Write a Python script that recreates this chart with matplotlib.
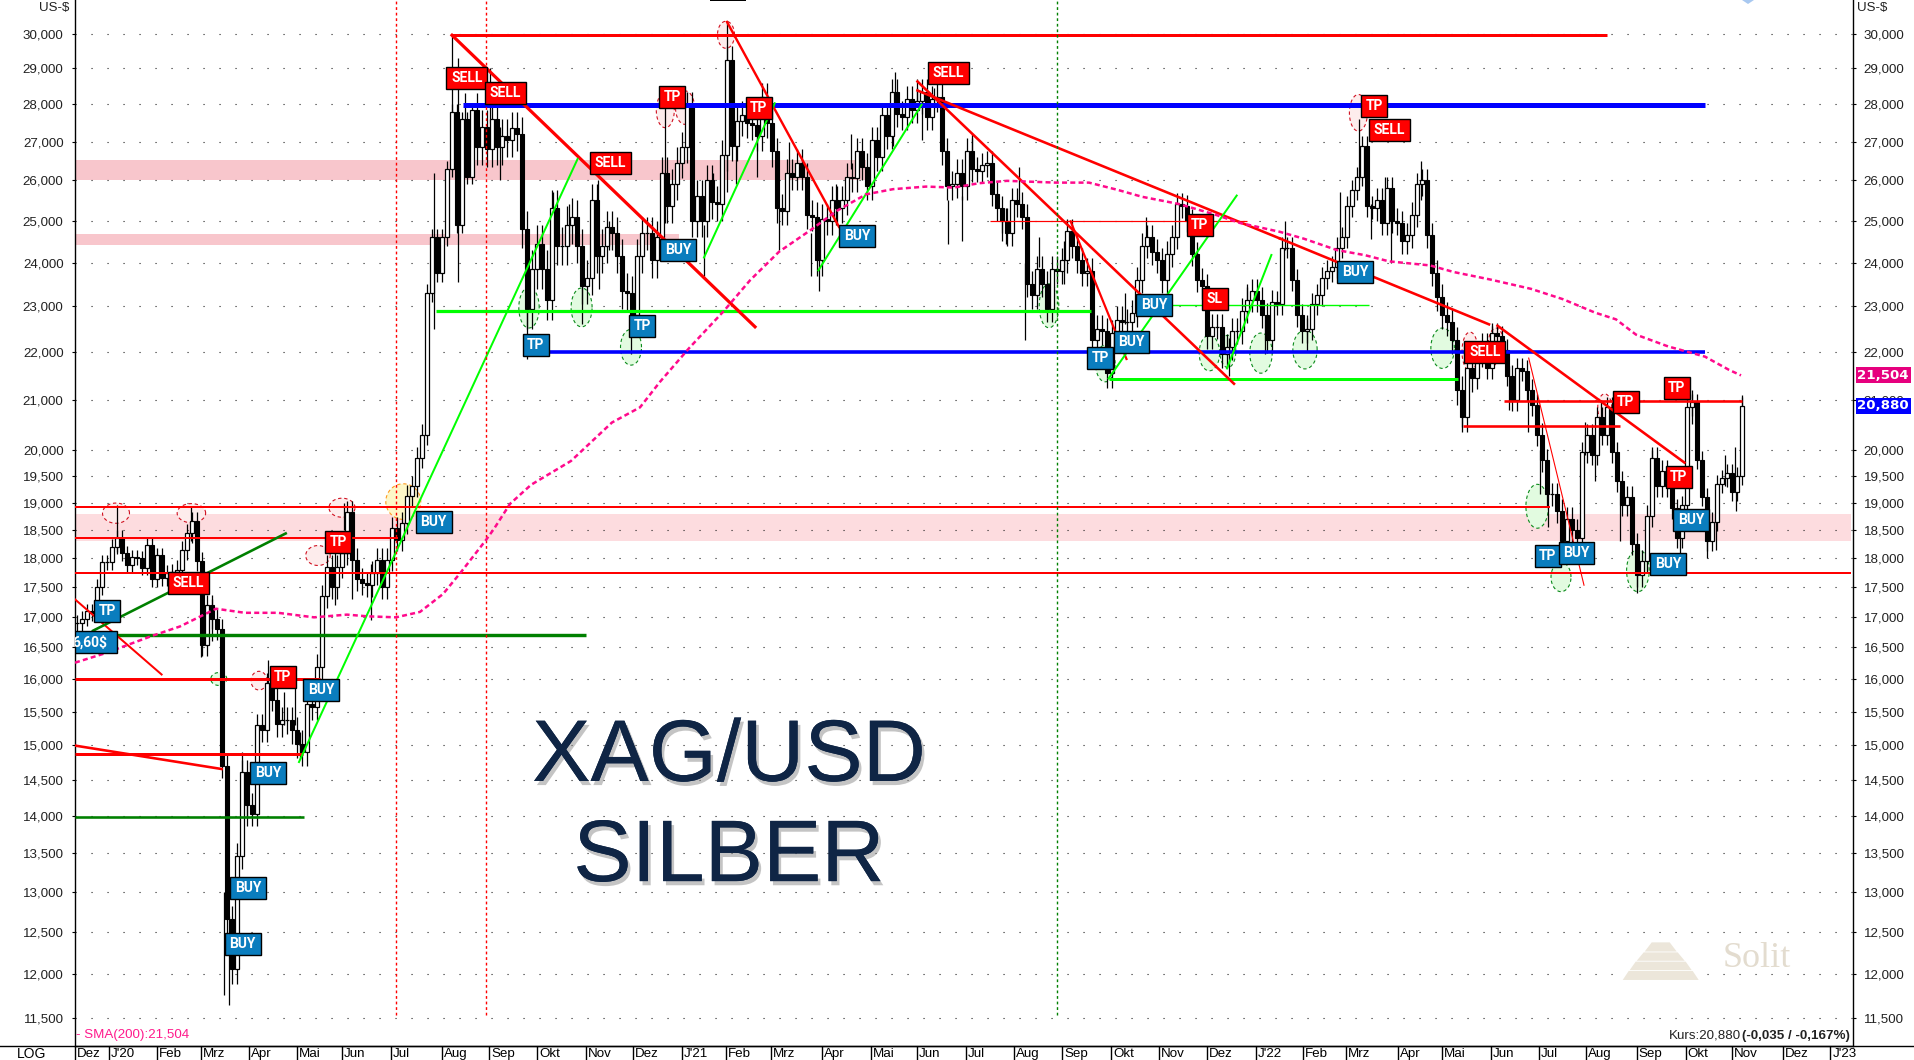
# -*- coding: utf-8 -*-
"""XAG/USD (Silber) daily chart with trade marks, read off the reference picture."""

import numpy as np
import matplotlib
matplotlib.use('Agg')
import matplotlib.pyplot as plt
import matplotlib.patheffects as pe
from matplotlib.lines import Line2D
from matplotlib.patches import Rectangle
from matplotlib.transforms import blended_transform_factory

plt.rcParams['font.family'] = ['Liberation Sans', 'DejaVu Sans']

# x axis runs in chart columns, 5 columns per candle
first_col = 77
col_step = 5

closes = [
    16900, 16970, 17090, 17060, 17500, 17930, 17930, 18200, 18360, 18080, 17880, 18020, 18000, 17830, 18230, 17630, 18050, 17650, 17740, 17760,
    17800, 18140, 18440, 18660, 17940, 16540, 17200, 16970, 16790, 14700, 12660, 12060, 13470, 14620, 14150, 14030, 15300, 15220, 15930, 15680,
    15320, 15370, 15370, 15220, 15020, 14900, 15620, 15570, 16190, 17340, 17850, 17500, 17850, 18080, 18820, 17970, 17630, 17560, 17530, 17740,
    17970, 17500, 17970, 18530, 18320, 18620, 19130, 19300, 19850, 20300, 23300, 24600, 23750, 24600, 26300, 27800, 24900, 27600, 26100, 27850,
    26850, 27400, 26800, 27600, 26850, 27150, 27050, 27350, 27200, 24800, 22950, 23850, 24450, 23850, 23150, 25300, 24400, 24400, 24900, 25100,
    24400, 23450, 23650, 25500, 24150, 24400, 24850, 24700, 24150, 23350, 23300, 22800, 24150, 24700, 24700, 24050, 24600, 26200, 25350, 25900,
    26450, 26850, 27950, 25000, 25600, 25000, 26000, 25450, 25400, 26650, 29250, 26900, 27550, 27700, 27500, 27450, 27150, 28200, 27500, 26750,
    25300, 25250, 26200, 26100, 26450, 26100, 25150, 25100, 24050, 25050, 25000, 25500, 25300, 25500, 26100, 26050, 26750, 26350, 25850, 27050,
    26600, 27700, 27150, 28350, 27750, 27650, 28150, 27850, 28100, 28350, 27650, 28150, 28200, 26750, 25850, 25900, 26200, 25850, 26750, 26300,
    26250, 26400, 26450, 25650, 25300, 25000, 24700, 25500, 25400, 25100, 23500, 23250, 23850, 23500, 22950, 23850, 23800, 24050, 24750, 24400,
    24050, 23750, 23800, 22250, 22500, 22450, 21550, 22400, 22700, 22650, 22650, 22850, 23600, 24400, 24600, 24250, 24050, 23600, 24200, 24600,
    25400, 25350, 25000, 24200, 23600, 23450, 22350, 22550, 22550, 21950, 22100, 22450, 22450, 22900, 23150, 23350, 23150, 22800, 22250, 23100,
    23050, 24350, 24350, 23600, 22800, 22450, 22500, 23050, 23250, 23650, 23800, 23900, 24350, 24600, 25350, 25750, 26100, 26900, 25350, 25300,
    25500, 24950, 25800, 25000, 24950, 24500, 24650, 25150, 25900, 26000, 24650, 23750, 23200, 22800, 22650, 22250, 21200, 20650, 21650, 21450,
    21900, 22200, 21650, 22400, 22350, 22050, 21500, 21000, 21650, 21600, 21200, 20900, 20300, 19800, 19150, 19150, 18850, 18300, 18700, 18500,
    18350, 19950, 20300, 19900, 20650, 20300, 20850, 19950, 19400, 18950, 19100, 18250, 17700, 17950, 18750, 19850, 19300, 19600, 19300, 18900,
    18350, 18950, 20850, 20950, 19800, 19100, 18300, 18650, 19350, 19450, 19550, 19200, 19500, 20880,
]

# typical wick length per stretch of 20 candles, estimated
stretch_wick = [130, 170, 200, 200, 450, 400, 400, 350, 350, 300, 300, 280, 250, 300, 220, 200, 170]

# single long wicks: column, low, high
wick_cols = [117, 191, 201, 212, 224, 229, 242, 247, 268, 284, 295, 300, 371, 335, 352, 344,
             434, 458, 452, 465, 490, 500, 527, 553, 569, 582, 598, 599, 609, 631, 665, 704, 713, 727, 736,
             757, 779, 789, 811, 819, 836, 851, 895, 893, 917, 922, 934, 948, 972, 962, 1002, 1006, 1019, 1025, 1039, 1064,
             1146, 1125, 1229, 1247, 1265, 1285, 1307, 1340, 1359, 1371, 1385, 1391, 1421,
             1462, 1492, 1509, 1528, 1540, 1548, 1585, 1595, 1601, 1620, 1637, 1652, 1680, 1692, 1707, 1716, 1725, 1736, 1735, 1742]
wick_lows = [18100, 18300, 16350, 16600, 11763, 11650, 14600, 13860, 15700, 15300, 15300, 14800, 16950, 17200, 17300, 18500,
             22500, 23550, 27500, 26500, 27500, 26000, 21850, 24900, 24400, 22600, 24500, 23400, 24300, 21950, 24950, 23700, 25500, 25700, 25900,
             26100, 24300, 26000, 23700, 23350, 24900, 26300, 27800, 26900, 28100, 27050, 27900, 24450, 26300, 24500, 24500, 24450, 25400, 22250, 23900, 23500,
             24400, 22600, 21500, 22800, 21950, 24300, 22000, 24400, 26000, 24550, 25200, 24000, 25500,
             20450, 21900, 20800, 20350, 19150, 18550, 19900, 19400, 20300, 18300, 17400, 19000, 17850, 20500, 18000, 18150, 19300, 18850, 19300, 20300]
wick_highs = [18950, 18920, 17200, 17300, 13000, 12700, 14900, 14300, 16300, 15800, 15900, 15200, 17900, 18100, 18100, 19000,
              26200, 29300, 30000, 28300, 29000, 27400, 23000, 25700, 25400, 23600, 26000, 24400, 25000, 22900, 28000, 24900, 26200, 30350, 27000,
              27100, 25300, 27000, 24700, 24400, 25900, 27200, 28900, 27800, 28700, 28300, 28450, 25500, 27200, 25600, 25300, 25300, 26350, 24000, 24600, 24500,
              25100, 23300, 22300, 23500, 22800, 25000, 22800, 25700, 27600, 25400, 26100, 25000, 26500,
              21000, 22570, 21700, 21200, 20000, 19300, 20550, 20000, 21000, 19200, 18200, 20000, 18900, 21200, 18800, 18900, 19900, 19500, 20050, 21100]

# SMA(200), column and value
sma_cols = [75, 106, 151, 180, 216, 245, 278, 314, 347, 367, 396, 420, 443, 461, 486, 494, 510, 531, 571, 612, 640,
            660, 689, 724, 750, 779, 811, 836, 866, 893, 926, 954, 979, 1007, 1056, 1089, 1118, 1142, 1179, 1215, 1240, 1280,
            1304, 1337, 1365, 1389, 1430, 1454, 1490, 1531, 1563, 1595, 1616, 1636, 1668, 1705, 1729, 1741]
sma_vals = [16256, 16410, 16680, 16840, 17133, 17065, 17065, 16990, 17035, 17007, 16990, 17080, 17380, 17755, 18320, 18520, 18975, 19330, 19785, 20540, 20845,
            21370, 22080, 22900, 23590, 24255, 24780, 25230, 25650, 25780, 25845, 25820, 25930, 25990, 25945, 25945, 25760, 25590, 25410, 25150, 24945, 24730,
            24565, 24295, 24175, 24030, 23935, 23780, 23610, 23395, 23160, 22860, 22710, 22375, 22120, 21900, 21620, 21504]

# pink zones: first column, last column, low, high, colour
band_x0 = [75, 75, 75]
band_x1 = [866, 679, 1851]
band_low = [26000, 24413, 18297]
band_high = [26522, 24675, 18785]
band_col = ['#f8c6cc', '#f8c6cc', '#fddcdf']

# level lines: first column, last column, value, colour, width
level_x0 = [452, 463, 549, 436, 1109, 1158, 990, 75, 75, 75, 75, 75, 75, 75, 1504, 1463]
level_x1 = [1607, 1705, 1705, 1091, 1458, 1369, 1247, 1550, 398, 1851, 586, 304, 320, 303, 1742, 1620]
level_val = [29950, 27969, 22000, 22906, 21437, 23019, 25000, 18913, 18354, 17736, 16705, 13993, 15996, 14879, 20977, 20463]
level_col = ['#ff0000', '#0000ff', '#0000ff', '#00ff00', '#00ff00', '#00ff00', '#ff0000', '#ff0000', '#ff0000', '#ff0000',
             '#008000', '#008000', '#ff0000', '#ff0000', '#ff0000', '#ff0000']
level_wid = [3, 5, 3.6, 3.2, 3, 1.4, 1.2, 2, 2, 2, 3.4, 2.6, 3, 3, 2.6, 2.6]

# trend lines: column pair, value pair, colour, width
trend_x0 = [452, 727, 917.5, 1280, 917.5, 1070.6, 1497.5, 1528.7, 75, 75, 93, 299, 704, 818.4, 1108.6, 1227]
trend_x1 = [755, 839, 1280, 1489, 1234, 1126.5, 1684.4, 1584, 221.6, 161.6, 285.7, 577.6, 774.7, 921.6, 1236.7, 1271.4]
trend_v0 = [29950, 30340, 28380, 24570, 28630, 24985, 22570, 21870, 14995, 17290, 16770, 14757, 24120, 23820, 21440, 21650]
trend_v1 = [22546, 24850, 24570, 22600, 21330, 21850, 19754, 17530, 14657, 16070, 18436, 26550, 28030, 27990, 25620, 24180]
trend_col = ['#ff0000'] * 10 + ['#008000'] + ['#00ff00'] * 5
trend_wid = [3.2, 2.4, 2.6, 2.6, 2.6, 2.2, 2.6, 1.1, 2.6, 2, 2.6, 2, 2, 2, 2, 2]

# dashed circles: column, width, low, high
red_x = [116, 191.4, 342, 318, 259, 726, 665.3, 685, 1358.4, 1470, 1496, 1604.7]
red_w = [27, 28.5, 26, 24.5, 16, 17, 18, 19, 18, 16, 16, 14]
red_lo = [18620, 18630, 18730, 17870, 15830, 29570, 27370, 27460, 27280, 21600, 21730, 20560]
red_hi = [18990, 18980, 19080, 18220, 16120, 30360, 28320, 28370, 28270, 22430, 22520, 21120]

green_x = [218.8, 529, 581.6, 631, 1049, 1105.3, 1209.4, 1227.8, 1261, 1305, 1442.6, 1537.2, 1561, 1637.9]
green_w = [16, 20.4, 21, 21, 19.6, 19.6, 20.4, 16, 22.4, 24.3, 23.5, 22.6, 20, 22.6]
green_lo = [15900, 22520, 22545, 21720, 22525, 21370, 21600, 21670, 21550, 21640, 21650, 18530, 17420, 17420]
green_hi = [16100, 23430, 23415, 22490, 23510, 22150, 22360, 22360, 22410, 22470, 22520, 19340, 17925, 18150]

# trade boxes: text, centre column, centre value
box_text = ['SELL', 'SELL', 'SELL', 'BUY', 'TP', 'TP', 'TP', '6,60$', 'SELL', 'TP', 'TP', 'BUY', 'BUY', 'BUY', 'BUY',
            'TP', 'TP', 'BUY', 'BUY', 'SELL', 'TP', 'BUY', 'SL', 'BUY', 'TP', 'TP', 'SELL', 'BUY', 'SELL', 'TP', 'TP', 'TP', 'BUY', 'TP', 'BUY', 'BUY']
box_col = [466.9, 505.6, 610.4, 433.8, 535.8, 642, 107.3, 95.7, 188, 338.4, 282.8, 320.9, 267.9, 247.9, 242.8,
           672.3, 758.6, 678, 857, 948, 1199.5, 1154, 1214.5, 1131.7, 1100.4, 1374, 1389.3, 1355, 1484.8, 1625.6, 1676.5, 1678.5, 1691, 1547.5, 1576.7, 1667.9]
box_val = [28720, 28310, 26435, 18640, 22160, 22570, 17100, 16580, 17570, 18285, 16025, 15830, 14600, 13055, 12360,
           28190, 27890, 24290, 24640, 28880, 24905, 23020, 23160, 22210, 21880, 27950, 27300, 23780, 22010, 20950, 21250, 19480, 18680, 18030, 18080, 17890]
box_fill = ['#ff0000' if t in ('SELL', 'SL') else '#0a7dbe' for t in box_text]
for i in [9, 10, 15, 16, 20, 25, 29, 30, 31]:
    box_fill[i] = '#ff0000'
box_width = {'SELL': 41, 'BUY': 35.5, 'TP': 26, 'SL': 26, '6,60$': 42}

# price axis
price_ticks = list(range(30000, 19000, -1000)) + list(range(19500, 11000, -500))

# month axis
month_ticks = [75, 108.6, 156.7, 201, 249, 297, 342, 391, 442.4, 489, 537, 586, 632.9, 681.5, 726.3, 771, 821.6, 870.7, 917,
               965.6, 1014, 1062.3, 1111, 1159, 1207, 1255.8, 1303, 1346, 1397.7, 1441.7, 1490.7, 1539, 1586, 1636.6, 1685.6, 1731.7, 1782.6, 1830.3]
month_names = ['Dez', "J'20", 'Feb', 'Mrz', 'Apr', 'Mai', 'Jun', 'Jul', 'Aug', 'Sep', 'Okt', 'Nov', 'Dez', "J'21", 'Feb', 'Mrz', 'Apr', 'Mai', 'Jun',
               'Jul', 'Aug', 'Sep', 'Okt', 'Nov', 'Dez', "J'22", 'Feb', 'Mrz', 'Apr', 'Mai', 'Jun', 'Jul', 'Aug', 'Sep', 'Okt', 'Nov', 'Dez', "J'23"]

# small pyramid of the watermark
pyr_low = [12270, 12160, 12050, 11935]
pyr_high = [12380, 12260, 12150, 12040]
pyr_top = [9, 17, 25, 32]
pyr_bot = [16, 24, 31, 38]

W, H = 1914, 1060
fig = plt.figure(figsize=(W / 100, H / 100), dpi=100, facecolor='white')
ax = fig.add_axes([74.7 / W, (H - 1045.5) / H, (1852.5 - 74.7) / W, 1045.5 / H])
ax.set_yscale('log')
ax.set_xlim(74.7, 1852.5)
ax.set_ylim(11197, 30995)

ax.set_yticks(price_ticks)
ax.set_yticklabels([f'{v:,}' for v in price_ticks], fontsize=9.6, color='#222222')
ax.minorticks_off()
ax.tick_params(axis='y', which='major', length=2.5, width=0.8, pad=5.5, left=True, right=True, labelleft=True, labelright=True)
ax.set_xticks(month_ticks)
ax.set_xticklabels([])
ax.tick_params(axis='x', length=11, width=1)
ax.grid(axis='y', color='#222222', linewidth=0.8, linestyle=(0, (1, 13.4)), zorder=1)
ax.set_axisbelow(True)
ax.spines['top'].set_visible(False)
for s in ('left', 'right', 'bottom'):
    ax.spines[s].set_linewidth(1)

for x0, x1, lo, hi, c in zip(band_x0, band_x1, band_low, band_high, band_col):
    ax.add_patch(Rectangle((x0, lo), x1 - x0, hi - lo, facecolor=c, edgecolor='none', zorder=0.5))


def draw_ellipse(x, w, lo, hi, face, edge):
    t = np.linspace(0, 2 * np.pi, 60)
    mid, half = (np.log(lo) + np.log(hi)) / 2, (np.log(hi) - np.log(lo)) / 2
    ax.fill(x + w / 2 * np.cos(t), np.exp(mid + half * np.sin(t)), facecolor=face, edgecolor=edge,
            linewidth=0.8, linestyle=(0, (3, 2.5)), zorder=2)


for x, w, lo, hi in zip(red_x, red_w, red_lo, red_hi):
    draw_ellipse(x, w, lo, hi, '#fdecec', '#d01020')
for x, w, lo, hi in zip(green_x, green_w, green_lo, green_hi):
    draw_ellipse(x, w, lo, hi, '#e2fbe0', '#0a8a1a')
draw_ellipse(403.3, 35, 18690, 19350, '#fdf7c8', '#ff9a20')

# candles
close = np.array(closes, dtype=float)
opens = np.concatenate(([close[0]], close[:-1]))
cols = first_col + col_step * np.arange(len(close))
up = close >= opens
pad = np.repeat(stretch_wick, 20)[:len(close)]
ax.vlines(cols, np.minimum(opens, close) - pad, np.maximum(opens, close) + pad, color='black', linewidth=0.9, zorder=3)
ax.vlines(wick_cols, wick_lows, wick_highs, color='black', linewidth=0.9, zorder=3)
ax.bar(cols[up], (close - opens)[up], bottom=opens[up], width=3.2, facecolor='white', edgecolor='black', linewidth=0.9, zorder=3.2)
ax.bar(cols[~up], (opens - close)[~up], bottom=close[~up], width=3.8, facecolor='black', edgecolor='black', linewidth=0.8, zorder=3.3)

for x0, x1, v, c, wd in zip(level_x0, level_x1, level_val, level_col, level_wid):
    ax.plot([x0, x1], [v, v], color=c, linewidth=wd * 0.72, solid_capstyle='butt', zorder=4)
for x0, x1, v0, v1, c, wd in zip(trend_x0, trend_x1, trend_v0, trend_v1, trend_col, trend_wid):
    ax.plot([x0, x1], [v0, v1], color=c, linewidth=wd * 0.72, zorder=4)

ax.plot(sma_cols, sma_vals, color='#ff0a8c', linewidth=1.8, linestyle=(0, (2, 1.3)), zorder=4.5)

# dashed time markers
for col, c in zip([396.3, 485.7, 1056.6], ['#ff0000', '#ff0000', '#008000']):
    ax.plot([col, col], [11540, 30995], color=c, linewidth=1, linestyle=(0, (2, 2)), zorder=4.2)

# trade boxes, 22 px high on the log scale
ratio = np.exp(11 / 1026.6)
for t, x, v, c in zip(box_text, box_col, box_val, box_fill):
    w = box_width[t]
    ax.add_patch(Rectangle((x - w / 2, v / ratio), w, v * ratio - v / ratio, facecolor=c, edgecolor='black', linewidth=1, zorder=6))
    tx_col = x - 5.7 if t == '6,60$' else x
    ax.text(tx_col, v, t, color='white', fontsize=10, fontweight='bold', ha='center', va='center', zorder=7,
            family=['Roboto', 'Liberation Sans'], clip_on=True)

# big title with soft shadow
shadow = [pe.withSimplePatchShadow(offset=(2, -3), shadow_rgbFace='#8a8a8a', alpha=0.5), pe.Normal()]
for label, yfrac in zip(['XAG/USD', 'SILBER'], [0.2845, 0.19]):
    tx = ax.text(729, 0, label, transform=blended_transform_factory(ax.transData, fig.transFigure), color='#0f2545',
                 fontsize=63, ha='center', va='center', zorder=5)
    tx.set_y(yfrac)
    tx.set_path_effects(shadow)

# watermark
for lo, hi, top, bot in zip(pyr_low, pyr_high, pyr_top, pyr_bot):
    ax.fill([1660.7 - bot, 1660.7 + bot, 1660.7 + top, 1660.7 - top], [lo, lo, hi, hi], color='#ece6da', linewidth=0, zorder=1.5)
ax.text(1757, 12190, 'Solit', color='#e3dccf', fontsize=26, family='Liberation Serif', ha='center', va='center', zorder=1.5)

# price tags on the right axis
tags = [(21504, '21,504', '#e6007e'), (20880, '20,880', '#0000ff')]
for v, s, c in tags:
    ax.annotate(s, xy=(1857.5, v), xycoords=('data', 'data'), annotation_clip=False, color='white', fontsize=9.6, fontweight='bold',
                ha='left', va='center', family='DejaVu Sans', zorder=8,
                bbox=dict(boxstyle='square,pad=0.12', facecolor=c, edgecolor='none'))

# headers and footers in figure pixels
def ftext(x, y, s, **kw):
    fig.text(x / W, 1 - y / H, s, **kw)


ftext(39, 8.5, 'US-$', fontsize=9.6, va='center', color='#222222')
ftext(1857.5, 8.5, 'US-$', fontsize=9.6, va='center', color='#222222')
ftext(76, 1035, '- SMA(200):21,504', fontsize=9.6, va='center', color='#ff1a8c')
ftext(1741, 1035.5, 'Kurs:20,880', fontsize=9.6, va='center', ha='right', color='#222222')
ftext(1742, 1035.5, '(-0,035 / -0,167%)', fontsize=9.6, va='center', fontweight='bold', color='#222222')
ftext(32, 1053.5, 'LOG', fontsize=10, va='center', ha='center', color='black')
for x, s in zip(month_ticks, month_names):
    ftext(x + 2, 1054, s, fontsize=9.6, va='center', color='black')
fig.add_artist(Line2D([0, 1], [(H - 1045.5) / H] * 2, color='black', linewidth=1))

# bits cut by the top edge of the picture
fig.add_artist(Rectangle((710 / W, 1 - 1.2 / H), 36 / W, 1.2 / H, transform=fig.transFigure, facecolor='black', edgecolor='none'))
fig.add_artist(plt.Polygon([[1742 / W, 1], [1754 / W, 1], [1748 / W, 1 - 4 / H]], transform=fig.transFigure, facecolor='#a8c8f0', edgecolor='none'))

fig.savefig('out.png', dpi=100, facecolor='white')
